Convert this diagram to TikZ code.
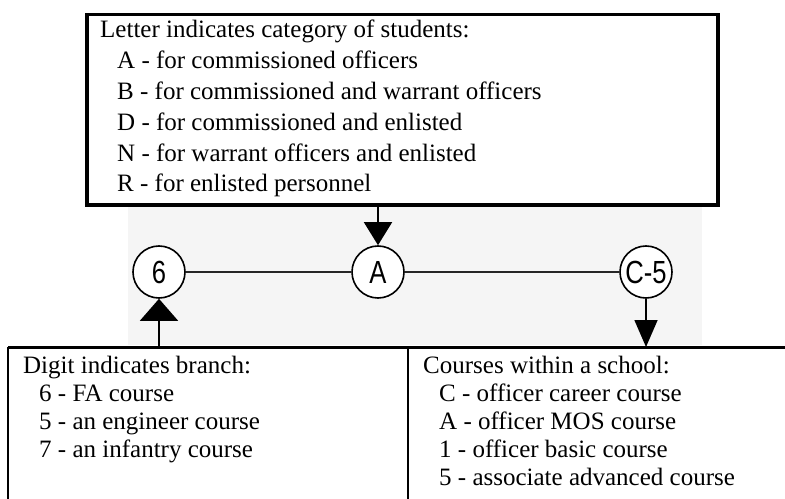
\documentclass[tikz,border=0pt]{standalone}
\usepackage{fontspec}
\setmainfont{Liberation Serif}
\newfontfamily\circfont[FakeStretch=0.8]{Liberation Sans}
\usetikzlibrary{arrows.meta}
\tikzset{
  txt/.style={anchor=base west, inner sep=0pt, font=\fontsize{25bp}{30bp}\selectfont},
  circ/.style={circle, draw, line width=1.6bp, minimum size=52bp, inner sep=0pt, fill=white,
    font=\circfont\fontsize{32bp}{32bp}\selectfont},
  conn/.style={line width=1.8bp, black!85},
  stem/.style={line width=1.6bp},
  frame/.style={line width=3.5bp},
}
\begin{document}
\begin{tikzpicture}[x=1bp,y=-1bp]
\useasboundingbox (0,0) rectangle (785,499);
% faint scanned background
\fill[black!4] (128,206) rectangle (702,345);
% top box
\node[draw, frame, minimum width=631bp, minimum height=190bp, inner sep=0pt, anchor=north west] (top) at (85,13) {};
\node[txt] (t1) at (100,38) {Letter indicates category of students:};
\node[txt] (t2) at (117,68.8) {A - for commissioned officers};
\node[txt] (t3) at (117,99.6) {B - for commissioned and warrant officers};
\node[txt] (t4) at (117,130.4) {D - for commissioned and enlisted};
\node[txt] (t5) at (117,161.2) {N - for warrant officers and enlisted};
\node[txt] (t6) at (117,192) {R - for enlisted personnel};
% circles
\node[circ] (six) at (159,272) {6};
\node[circ] (A) at (378,272) {A};
\node[circ] (C5) at (646,272) {C-5};
\draw[conn] (six) -- (A);
\draw[conn] (A) -- (C5);
% bottom box
\coordinate (bl) at (8,347);
\coordinate (br) at (785,347);
\coordinate (bdiv) at (408,347);
\coordinate (bll) at (8,499);
\coordinate (bdivb) at (408,499);
\draw[line width=3bp] (bl) -- (br);
\draw[line width=2bp] (bl) -- (bll);
\draw[line width=2bp] (bdiv) -- (bdivb);
\node[txt] (l1) at (23,373) {Digit indicates branch:};
\node[txt] (l2) at (39,401) {6 - FA course};
\node[txt] (l3) at (39,429) {5 - an engineer course};
\node[txt] (l4) at (39,457) {7 - an infantry course};
\node[txt] (r1) at (423,373) {Courses within a school:};
\node[txt] (r2) at (439,401) {C - officer career course};
\node[txt] (r3) at (439,429) {A - officer MOS course};
\node[txt] (r4) at (439,457) {1 - officer basic course};
\node[txt] (r5) at (439,485) {5 - associate advanced course};
% arrows
\coordinate (topA) at (top.south -| A);
\coordinate (b6) at (bl -| six);
\coordinate (bC5) at (bl -| C5);
\draw[stem, -{Triangle[width=28bp, length=23bp]}] (topA) -- (A.north);
\draw[stem, -{Triangle[width=38bp, length=22bp]}] (b6) -- (six.south);
\draw[stem, -{Triangle[width=23bp, length=27bp]}] (C5.south) -- (bC5);
\end{tikzpicture}
\end{document}
